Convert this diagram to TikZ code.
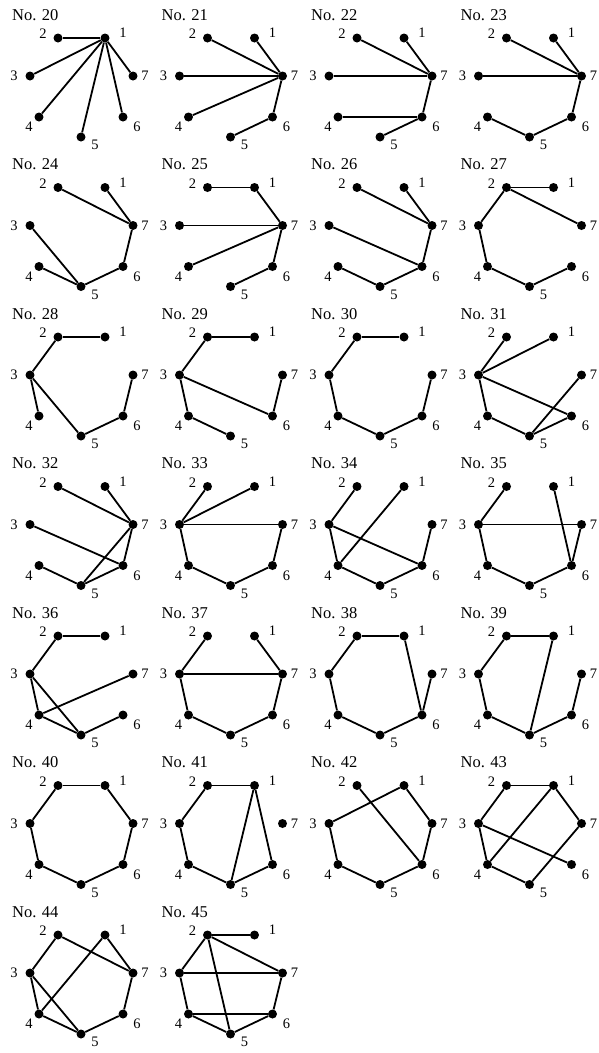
\documentclass[tikz,border=0pt]{standalone}
\usepackage{fontspec}
\setmainfont{Liberation Serif}
\tikzset{
  vtx/.style={circle, fill=black, inner sep=0pt, minimum size=9pt},
  edg/.style={line width=1.8pt},
  lbl/.style={font=\fontsize{14.5}{14.5}\selectfont, inner sep=0pt},
  ttl/.style={font=\fontsize{16.5}{16.5}\selectfont, inner sep=0pt, anchor=base west},
}
\newcommand\graphG[4]{%
  \begin{scope}[shift={(#1*149.5,#2*149.5)}]
    \node[ttl] (t#3) at (12,20) {No. #3};
    \node[vtx] (g#3v1) at (105,38) {};
    \node[vtx] (g#3v2) at (58,38) {};
    \node[vtx] (g#3v3) at (30,76) {};
    \node[vtx] (g#3v4) at (39,117) {};
    \node[vtx] (g#3v5) at (81,137) {};
    \node[vtx] (g#3v6) at (123,117) {};
    \node[vtx] (g#3v7) at (133,76) {};
    \node[lbl] (g#3l1) at (123,33) {1};
    \node[lbl] (g#3l2) at (43,34) {2};
    \node[lbl] (g#3l3) at (14,76) {3};
    \node[lbl] (g#3l4) at (29,127) {4};
    \node[lbl] (g#3l5) at (95,145) {5};
    \node[lbl] (g#3l6) at (137,127) {6};
    \node[lbl] (g#3l7) at (145,76) {7};
    \foreach \a/\b in {#4} \draw[edg] (g#3v\a) -- (g#3v\b);
  \end{scope}}
\begin{document}
\begin{tikzpicture}[x=1pt,y=-1pt]
\useasboundingbox (0,0) rectangle (599,1053);
\graphG{0}{0}{20}{1/2,1/3,1/4,1/5,1/6,1/7}
\graphG{1}{0}{21}{2/7,1/7,3/7,4/7,6/7,5/6}
\graphG{2}{0}{22}{2/7,1/7,3/7,6/7,4/6,5/6}
\graphG{3}{0}{23}{2/7,1/7,3/7,6/7,5/6,4/5}
\graphG{0}{1}{24}{2/7,1/7,6/7,5/6,3/5,4/5}
\graphG{1}{1}{25}{1/2,1/7,3/7,4/7,6/7,5/6}
\graphG{2}{1}{26}{2/7,1/7,6/7,3/6,5/6,4/5}
\graphG{3}{1}{27}{1/2,2/7,2/3,3/4,4/5,5/6}
\graphG{0}{2}{28}{1/2,2/3,3/4,3/5,5/6,6/7}
\graphG{1}{2}{29}{1/2,2/3,3/4,4/5,3/6,6/7}
\graphG{2}{2}{30}{1/2,2/3,3/4,4/5,5/6,6/7}
\graphG{3}{2}{31}{2/3,1/3,3/4,3/6,4/5,5/6,5/7}
\graphG{0}{3}{32}{2/7,1/7,3/6,6/7,5/7,5/6,4/5}
\graphG{1}{3}{33}{2/3,1/3,3/7,3/4,4/5,5/6,6/7}
\graphG{2}{3}{34}{2/3,1/4,3/4,3/6,4/5,5/6,6/7}
\graphG{3}{3}{35}{2/3,1/6,3/7,3/4,4/5,5/6,6/7}
\graphG{0}{4}{36}{1/2,2/3,3/4,3/5,4/7,4/5,5/6}
\graphG{1}{4}{37}{2/3,1/7,3/7,3/4,4/5,5/6,6/7}
\graphG{2}{4}{38}{1/2,2/3,3/4,4/5,5/6,1/6,6/7}
\graphG{3}{4}{39}{1/2,2/3,3/4,4/5,1/5,5/6,6/7}
\graphG{0}{5}{40}{1/2,2/3,3/4,4/5,5/6,6/7,1/7}
\graphG{1}{5}{41}{1/2,2/3,3/4,4/5,1/5,1/6,5/6}
\graphG{2}{5}{42}{2/6,1/3,1/7,3/4,4/5,5/6,6/7}
\graphG{3}{5}{43}{1/2,1/4,1/7,2/3,3/6,3/4,4/5,5/7}
\graphG{0}{6}{44}{2/3,2/7,1/4,1/7,3/4,3/5,4/5,5/6,6/7}
\graphG{1}{6}{45}{1/2,2/3,2/7,2/5,3/7,3/4,4/6,4/5,5/6,6/7}
\end{tikzpicture}
\end{document}
